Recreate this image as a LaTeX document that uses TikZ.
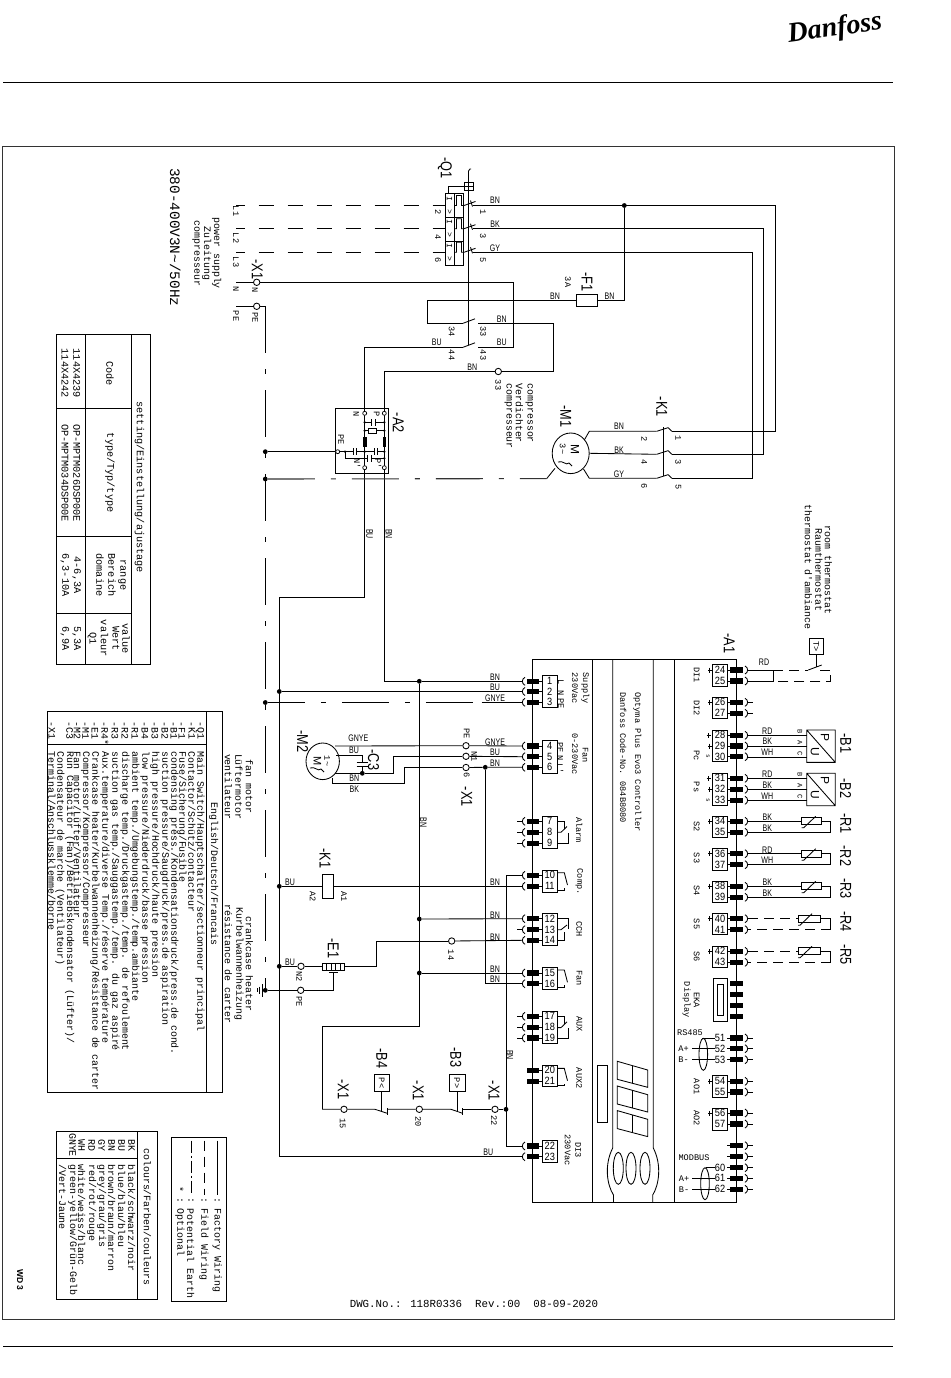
\documentclass[tikz,border=0pt]{standalone}
\usepackage{fontspec}
\usetikzlibrary{shapes.geometric}
\setmainfont{Liberation Sans}
\newfontfamily\mf{Liberation Mono}
\newfontfamily\srf{Liberation Serif}
\newcounter{lb}
\newcommand\Tx[4]{\stepcounter{lb}\node[#1] (t\thelb) at (#2,#3) {#4};}
\newcommand\Wl[3]{\Tx{wl}{#1}{#2}{\scalebox{.74}[1]{#3}}}
\newcommand\Rw[3]{\Tx{rwl}{#1}{#2}{\scalebox{.74}[1]{#3}}}
\newcommand\Nm[3]{\Tx{numl}{#1}{#2}{\scalebox{.88}[1]{#3}}}
% left terminal: bar, stub to box, number, cup; coordinate tlN = free end of cup
\newcommand\BarL[2]{\fill (527.3,#2-2.6) rectangle (539,#2+2.6);\draw[w] (539,#2) -- (542.3,#2);\coordinate (tl#1) at (522,#2);\Nm{549.8}{#2}{#1}}
\newcommand\TL[2]{\BarL{#1}{#2}\draw[w] (525,#2-4) .. controls (521.5,#2-2.5) and (521.5,#2+2.5) .. (525,#2+4);}
\newcommand\TLs[2]{\TL{#1}{#2}\draw[w] (522.3,#2) -- (517,#2);}
\newcommand\BarR[2]{\fill (730,#2-2.6) rectangle (742.7,#2+2.6);}
\newcommand\CupR[1]{\draw[w] (745,#1-4) .. controls (748.5,#1-2.5) and (748.5,#1+2.5) .. (745,#1+4);}
\newcommand\TR[2]{\BarR{#1}{#2}\draw[w] (727.7,#2) -- (730,#2);\CupR{#2}\coordinate (tr#1) at (748,#2);\Nm{720}{#2}{#1}}
\newcommand\TRs[2]{\TR{#1}{#2}\draw[w] (748,#2) -- (753,#2);}
\newcommand\Sns[7]{% resistor sensor: style, terminals n1 n2, y1, y2, rect x1, rect x2
 \coordinate (s#2) at (#6,#4);\coordinate (e#2) at (#7,#4);\coordinate (c#2) at (830.7,#4);\coordinate (c#3) at (830.7,#5);
 \draw[#1] (tr#2) -- (s#2);\draw[#1] (c#3) -- (tr#3);
 \draw[w] (#6,#4-3.4) rectangle (#7,#4+3.4);\draw[w] (e#2) -- (c#2) -- (c#3);
 \draw[w] (#6,#4+6.5) -- (#6+2,#4+6.5) -- (#6+14,#4-5);}
\tikzset{
 w/.style={line width=.85pt,black},
 fd/.style={w,dash pattern=on 15.5pt off 13.5pt},
 ds/.style={w,dash pattern=on 10pt off 6pt},
 pe/.style={w,dash pattern=on 47pt off 16pt on 5pt off 16pt},
 ct/.style={circle,draw,line width=.85pt,fill=white,minimum size=6.4pt,inner sep=0pt},
 cts/.style={circle,draw,line width=.7pt,fill=white,minimum size=4pt,inner sep=0pt},
 dot/.style={circle,fill=black,minimum size=4.8pt,inner sep=0pt},
 dots/.style={circle,fill=black,minimum size=2.6pt,inner sep=0pt},
 rm/.style={rotate=-90,inner sep=0pt,font=\mf\fontsize{9.9}{9.9}\selectfont},
 rml/.style={rm,anchor=west},
 rs/.style={rotate=-90,inner sep=0pt,font=\mf\fontsize{8.6}{8.6}\selectfont},
 rsl/.style={rs,anchor=west},
 rt/.style={rotate=-90,inner sep=0pt,font=\mf\fontsize{10.2}{10.2}\selectfont},
 big/.style={rotate=-90,xscale=.85,yscale=1.05,transform shape,inner sep=0pt,font=\fontsize{15}{15}\selectfont},
 wl/.style={inner sep=0pt,font=\fontsize{9.5}{9.5}\selectfont},
 rwl/.style={wl,rotate=-90},
 numl/.style={inner sep=0pt,font=\fontsize{10.5}{10.5}\selectfont},
 pl/.style={inner sep=0pt,font=\mf\fontsize{8.6}{8.6}\selectfont},
}
\begin{document}
\begin{tikzpicture}[x=1pt,y=-1pt,line cap=butt]
\useasboundingbox (0,0) rectangle (950,1378);
\fill[white] (0,0) rectangle (950,1378);
% page furniture
\node[inner sep=0pt,rotate=8,font=\srf\bfseries\itshape\fontsize{28}{28}\selectfont] (logo) at (835,29) {Danfoss};
\draw[line width=.7pt] (3,82.5) -- (893,82.5);
\draw[line width=.7pt] (3,1346) -- (893,1346);
\draw[line width=.9pt,black!80] (2.5,146) rectangle (894,1319);
\Tx{inner sep=0pt,rotate=-90,font=\bfseries\fontsize{8.5}{8.5}\selectfont}{20}{1280}{WD 3}
\Tx{inner sep=0pt,font=\mf\fontsize{10.8}{10.8}\selectfont}{474}{1303.5}{DWG.No.: 118R0336\ \ Rev.:00\ \ 08-09-2020}
% ---------- supply texts
\Tx{rotate=-90,inner sep=0pt,font=\mf\fontsize{14.4}{14.4}\selectfont}{175.3}{237.3}{380-400V3N\textasciitilde/50Hz}
\Tx{rm}{216.7}{253.3}{power supply}
\Tx{rm}{206.7}{253.3}{Zuleitung}
\Tx{rm}{196}{253.3}{compresseur}
\Tx{rs}{236}{211}{L1}\Tx{rs}{236}{238}{L2}\Tx{rs}{236}{262}{L3}\Tx{rs}{236}{289}{N}\Tx{rs}{236}{316}{PE}
\Tx{big}{257.3}{269.3}{-X1}
\Tx{rs}{255}{290.5}{N}\Tx{rs}{255.3}{317.7}{PE}
% ---------- Q1
\Tx{big}{445}{168}{-Q1}
\draw[w] (445,193) rectangle (463,265) (454,193) -- (454,265) (445,217) -- (463,217) (445,241) -- (463,241);
\draw[w] (448,193) -- (448,186) -- (464,186);
\draw[w] (464,182) rectangle (473,190) (468.5,182) -- (468.5,190) (464,186) -- (473,186);
\draw[w] (468.5,345) -- (468.5,171) -- (470,169) -- (471,169);
\foreach \i/\y in {1/205.5,2/228.7,3/252.3}{
 \coordinate (ql\i) at (445,\y);\coordinate (qr\i) at (473,\y);
 \draw[fd,dash phase=6.5pt] (236,\y) -- (ql\i);
 \draw[w] (454,\y) -- (456.5,\y) -- (456.5,\y-10) -- (461.5,\y-10) -- (461.5,\y) -- (464,\y) -- (475.5,\y-4);
 \draw[w] (470.5,\y-5) -- (472.5,\y+1);
 \node[inner sep=0pt,rotate=-90,font=\mf\fontsize{8}{8}\selectfont] at (449.5,\y-6.5) {I};
 \node[inner sep=0pt,rotate=-90,font=\mf\fontsize{8}{8}\selectfont] at (449.5,\y+6.5) {>};
}
\Tx{rs}{438}{212}{2}\Tx{rs}{438}{237}{4}\Tx{rs}{438}{260}{6}
\Tx{rs}{483}{212}{1}\Tx{rs}{483}{236}{3}\Tx{rs}{483}{260}{5}
\Wl{495}{200.5}{BN}\Wl{495}{224.5}{BK}\Wl{495}{248}{GY}
% phases to K1
\node[dot] (dQ) at (624.3,205.5) {};
\coordinate (k1t1) at (671.7,431.3);\coordinate (k1t3) at (671.7,454.3);\coordinate (k1t5) at (671.7,478.3);
\draw[w] (qr1) -- (775,205.5) -- (775,431.3) -- (k1t1);
\draw[w] (qr2) -- (763,228.7) -- (763,454.3) -- (k1t3);
\draw[w] (qr3) -- (752,252.3) -- (752,478.3) -- (k1t5);
% X1 N / PE
\node[ct] (xN) at (256.7,282.3) {};
\node[ct] (xPE) at (256.7,306.3) {};
\coordinate (nL) at (236,282.3);\coordinate (peL) at (236,306.3);
\coordinate (pet) at (265.3,306.3);
\draw[w] (nL) -- (xN);\draw[w] (peL) -- (xPE) -- (pet);
\coordinate (c43) at (478,347.3);\coordinate (c33) at (478,323.3);\coordinate (c34) at (463,323.3);\coordinate (c44) at (463,347.3);
\draw[w] (xN) -- (513,282.3) -- (513,347.3) -- (c43);
% F1
\draw[w] (576.5,294.5) rectangle (597.5,306.5);
\coordinate (f1l) at (576.5,300);\coordinate (f1r) at (597.5,300);
\draw[w] (f1r) -- (624.3,300) -- (dQ);
\draw[w] (f1l) -- (427,300) -- (427,323.3) -- (c34);
\Tx{big}{587}{282}{-F1}\Tx{rs}{568}{282}{3A}
\Wl{555}{296}{BN}\Wl{609.5}{296}{BN}
\draw[w] (c34) -- (475,318.8) (c44) -- (475,342.8);
\Tx{rs}{451.7}{331.7}{34}\Tx{rs}{483.3}{331.7}{33}\Tx{rs}{451.7}{355}{44}\Tx{rs}{483.3}{355}{43}
\Wl{501.7}{319.3}{BN}\Wl{501.7}{342.7}{BU}\Wl{436.7}{342.7}{BU}\Wl{472.3}{367.3}{BN}
% terminal 33
\node[ct] (x33) at (498.3,371.5) {};
\Tx{rs}{498.3}{385}{33}
\coordinate (a2P) at (384.3,371.5);
\draw[w] (x33) -- (a2P);
\draw[w] (c33) -- (553.3,323.3) -- (553.3,371.5) -- (x33);
\Tx{rml}{529.3}{383.3}{compressor}\Tx{rml}{519.3}{383.3}{Verdichter}\Tx{rml}{508.3}{383.3}{compresseur}
% ---------- A2
\draw[w] (335.3,408.3) rectangle (388.7,473.3);
\Tx{big}{398.3}{422.7}{-A2}
\draw[w] (c44) -- (364.7,347.3) -- (364.7,597.7) -- (279.3,597.7);
\draw[w] (a2P) -- (384.3,681.3);
\node[cts] (a2a) at (364.7,413.3) {};\node[cts] (a2b) at (384.3,413.3) {};
\node[cts] (a2c) at (364.7,467.7) {};\node[cts] (a2d) at (384.3,467.7) {};
\node[cts] (a2e) at (337.7,451.7) {};
\draw[w] (364.7,422.3) -- (371.7,422.3) (375,422.3) -- (384.3,422.3);
\draw[w] (371.7,419) -- (371.7,425.7) (375,419) -- (375,425.7);
\draw[w] (364.7,430.7) -- (384.3,430.7);\draw[w,fill=white] (368.3,428.3) rectangle (376.7,433.3);
\fill (363.3,436.7) rectangle (366.7,446.7);\fill (382.7,436.7) rectangle (386,446.7);
\draw[w] (a2e) -- (353.3,451.7) (356,451.7) -- (374,451.7) (377.3,451.7) -- (384.3,451.7);
\draw[w] (353.3,448.3) -- (353.3,455) (356,448.3) -- (356,455) (374,448.3) -- (374,455) (377.3,448.3) -- (377.3,455);
\draw[w] (345,451.7) -- (345,458.3) -- (367.7,458.3) (371,458.3) -- (384.3,458.3);
\draw[w] (367.7,455) -- (367.7,461.7) (371,455) -- (371,461.7);
\foreach \p/\q in {345/451.7,364.7/451.7,384.3/451.7,384.3/458.3,364.7/430.7,384.3/430.7,364.7/422.3,384.3/422.3}{\node[dots] at (\p,\q) {};}
\Tx{rs}{356.3}{414}{N}\Tx{rs}{376.7}{414}{P}\Tx{rs}{341}{439.3}{PE}\Tx{rs}{357.3}{463.3}{N'}\Tx{rs}{378.3}{463.3}{P'}
\Rw{369.5}{534}{BU}\Rw{389}{534}{BN}
% ---------- PE lines
\node[dot] (dA) at (265.3,451.7) {};
\node[dot] (dB) at (265.3,479) {};
\node[dot] (dC) at (265.3,702.5) {};
\node[dot] (dE) at (265.3,990.3) {};
\draw[pe] (pet) -- (dE);
\draw[w] (dA) -- (a2e);
\coordinate (m1g) at (546.7,478.6);
\draw[pe,line width=1.1pt,black!80] (dB) -- (m1g);
\draw[w] (m1g) -- (555,468.3);
\draw[pe,dash phase=10pt] (dC) -- (481.7,702.5);
% ---------- M1, K1
\node[draw,ellipse,line width=.85pt,minimum width=37pt,minimum height=40.6pt,inner sep=0pt] (m1) at (570.7,453.3) {};
\Tx{big}{565.7}{416.7}{-M1}
\Tx{rotate=-90,inner sep=0pt,font=\fontsize{12}{12}\selectfont}{575}{449}{M}
\Tx{rs}{562.7}{449}{3\textasciitilde}
\draw[w] (558,462) .. controls (563,460) and (566,466) .. (569,463) -- (572,466);
\coordinate (k1a) at (656.7,431.3);\coordinate (k1b) at (656.7,454.3);\coordinate (k1c) at (656.7,478.3);
\draw[w] (584.3,440) -- (589.3,431.3) -- (k1a);
\draw[w] (m1.east) -- (k1b);
\draw[w] (583.5,469) -- (589.3,478.3) -- (k1c);
\foreach \y in {431.3,454.3,478.3}{\draw[w] (656.7,\y) -- (668.3,\y-3.7) (668.3,\y-3.5) -- (671.7,\y);}
\draw[w] (663.3,427) -- (663.3,476);
\Wl{619}{426.7}{BN}\Wl{619}{450}{BK}\Wl{619}{474}{GY}
\Tx{rs}{644.3}{438.7}{2}\Tx{rs}{644.3}{462}{4}\Tx{rs}{644.3}{485.7}{6}
\Tx{rs}{678.3}{437.7}{1}\Tx{rs}{678.3}{462.3}{3}\Tx{rs}{678.3}{486.7}{5}
\Tx{big}{661.7}{406.7}{-K1}
% ---------- settings table
\draw[w] (56,334) rectangle (150.7,664.3);
\draw[w] (85.3,334) -- (85.3,664.3) (131.3,334) -- (131.3,664.3);
\draw[w] (56,408.3) -- (131.3,408.3) (56,536.7) -- (131.3,536.7) (56,613.3) -- (131.3,613.3);
\Tx{rt}{139.5}{487.3}{setting/Einstellung/ajustage}
\Tx{rt}{110}{373.3}{Code}\Tx{rt}{110}{472.7}{type/Typ/type}
\Tx{rt}{122}{575}{range}\Tx{rt}{112}{575}{Bereich}\Tx{rt}{100}{575}{domaine}
\Tx{rt}{126}{638.3}{value}\Tx{rt}{116}{638.3}{Wert}\Tx{rt}{104.5}{638.3}{valeur}\Tx{rt}{92}{638.3}{Q1}
\Tx{rt}{76.7}{373.3}{114X4239}\Tx{rt}{65}{373.3}{114X4242}
\Tx{rt}{76.7}{473}{OP-MPTM026DSP00E}\Tx{rt}{65}{473}{OP-MPTM034DSP00E}
\Tx{rt}{76.7}{575}{4-6,3A}\Tx{rt}{65}{575}{6,3-10A}
\Tx{rt}{76.7}{638.3}{5,3A}\Tx{rt}{65}{638.3}{6,9A}
% ---------- A1 controller
\draw[w] (532.3,659.3) rectangle (736.3,1202.7);
\draw[w] (592.7,659.3) -- (592.7,1202.7) (674.3,659.3) -- (674.3,1202.7);
\draw[w] (612.7,659.3) -- (612.7,1148) .. controls (604,1165) and (607,1185) .. (613.5,1195) -- (613.5,1202.7);
\draw[w] (653.3,659.3) -- (653.3,1148) .. controls (662,1165) and (659,1185) .. (652.7,1195) -- (652.7,1202.7);
\foreach \x in {618.3,631,645}{\draw[w] (\x,1168.3) ellipse [x radius=5,y radius=16];}
\draw[w] (597.3,1065.3) rectangle (607.3,1122.3);
\foreach \y in {0,24.7,49.3}{
 \draw[w] (617.3,1061.3+\y) -- (647.7,1070+\y) -- (647.7,1087.3+\y) -- (617.3,1079.3+\y) -- cycle;
 \draw[w] (632.7,1065.7+\y) -- (632.7,1083.3+\y);}
\Tx{rsl}{637.3}{692}{Optyma Plus Evo3 Controller}
\Tx{rsl}{623.3}{692}{Danfoss Code-No. 084B8080}
\Tx{big}{729.3}{643.3}{-A1}
% left terminals
\draw[w] (542.3,675) rectangle (557.3,707.7);\foreach \n/\y in {1/681.3,2/691.5,3/702.3}{\TL{\n}{\y}}
\draw[w] (542.3,740.7) rectangle (557.3,773.3);\foreach \n/\y in {4/746,5/756.7,6/767.3}{\TL{\n}{\y}}
\draw[w] (542.3,816) rectangle (557.3,848.7);\foreach \n/\y in {7/821.3,8/832.3,9/843.3}{\TLs{\n}{\y}}
\draw[w] (542.3,870) rectangle (557.3,892);\foreach \n/\y in {10/875.3,11/886.3}{\TL{\n}{\y}}
\draw[w] (542.3,913.3) rectangle (557.3,945.7);\TL{12}{918.7}\TLs{13}{929.7}\TL{14}{940.3}
\draw[w] (542.3,967.3) rectangle (557.3,989.3);\foreach \n/\y in {15/973,16/983.7}{\TL{\n}{\y}}
\draw[w] (542.3,1011.3) rectangle (557.3,1043.7);\foreach \n/\y in {17/1016.3,18/1027.3,19/1038}{\TLs{\n}{\y}}
\draw[w] (542.3,1065.7) rectangle (557.3,1086.7);\foreach \n/\y in {20/1070.3,21/1081.3}{\BarL{\n}{\y}}
\draw[w] (542.3,1140.7) rectangle (557.3,1162.7);\foreach \n/\y in {22/1146,23/1156.7}{\TL{\n}{\y}}
% relay contacts
\foreach \y in {816,1011.3}{
 \draw[w] (557.3,\y+5.3) -- (564.3,\y+5.3) -- (564.3,\y+13);
 \draw[w] (557.3,\y+27.3) -- (568.7,\y+27.3) -- (568.7,\y+17);
 \draw[w] (557.3,\y+16.3) -- (561,\y+16.3) -- (567,\y+10.5);}
\draw[w] (557.3,918.7) -- (568.7,918.7) -- (568.7,929);
\draw[w] (557.3,940.3) -- (564.3,940.3) -- (564.3,932);
\draw[w] (557.3,929.7) -- (561,929.7) -- (567,925);
\foreach \y in {870,967.3,1065.7}{
 \draw[w] (557.3,\y+2.7) -- (564.3,\y+2.7) -- (567.5,\y+15);
 \draw[w] (557.3,\y+20) -- (564.3,\y+20) -- (564.3,\y+18);}
% left labels
\Tx{rs}{561}{682}{L}\Tx{rs}{561}{693}{N}\Tx{rs}{561}{703.7}{PE}
\Tx{rs}{560.3}{747.3}{PE}\Tx{rs}{560.3}{758.3}{N}\Tx{rs}{560.3}{768.3}{L'}
\Tx{rs}{585.3}{688.3}{Supply}\Tx{rs}{575}{688.3}{230Vac}
\Tx{rs}{585.3}{755}{Fan}\Tx{rs}{575}{754}{0-230Vac}
\Tx{rs}{579.3}{830}{Alarm}\Tx{rs}{579.3}{881.7}{Comp.}\Tx{rs}{579.3}{929.3}{CCH}
\Tx{rs}{579.3}{978.3}{Fan}\Tx{rs}{579.3}{1024.3}{AUX}\Tx{rs}{579.3}{1078.3}{AUX2}
\Tx{rs}{578.3}{1150}{DI3}\Tx{rs}{567.7}{1150}{230Vac}
% right terminals
\foreach \a/\b in {664.7/686,697.7/718.7,730/761.7,773.3/805.3,816/837.3,848.3/870,881/902.7,913.3/934.7,946/967.3,1075.7/1097.3,1108.3/1130}{\draw[w] (712.3,\a) rectangle (727.7,\b);}
\foreach \n/\y in {24/670,25/681,28/735.3,29/746,30/756.7,31/778.3,32/789.3,33/800.3,34/821.3,35/832.3,36/853.7,37/864.7,38/886.3,39/897.3,40/918.7,41/929.7,42/951.3,43/962.3}{\TR{\n}{\y}}
\foreach \n/\y in {26/702.3,27/713.3,54/1081.3,55/1092,56/1113,57/1124}{\TRs{\n}{\y}}
\foreach \y in {670,702.3,746,789.3,821.3,853.7,886.3,918.7,951.3,1081.3,1113}{\draw[line width=.5pt] (708,\y) -- (712.3,\y) (709.5,\y-2.5) -- (709.5,\y+2.5);}
\draw[line width=.5pt] (706.5,735.3) -- (711,735.3) (708.7,733) -- (708.7,737.6);
\draw[line width=.5pt] (706.5,778.3) -- (711,778.3) (708.7,776) -- (708.7,780.6);
\Tx{inner sep=0pt,rotate=-90,font=\mf\fontsize{6}{6}\selectfont}{708}{756.7}{s}
\Tx{inner sep=0pt,rotate=-90,font=\mf\fontsize{6}{6}\selectfont}{708}{800.3}{s}
% EKA display
\foreach \y in {983.7,994.3,1005.3,1016.3}{\BarR{e}{\y}}
\draw[w] (713,978.7) rectangle (727.7,1021.3);\draw[w] (717.7,984.7) rectangle (723.7,1015.7);
% RS485, unnamed, MODBUS
\foreach \n/\y in {51/1038,52/1048.7,53/1059.7}{\BarR{\n}{\y}\CupR{\y}\draw[w] (748,\y) -- (753,\y) (727,\y) -- (730,\y);\Nm{720}{\y}{\n}\coordinate (bb\n) at (714.5,\y);}
\foreach \y in {1145.7,1156.7}{\BarR{x}{\y}\CupR{\y}\draw[w] (748,\y) -- (753,\y) (727,\y) -- (730,\y);}
\foreach \n/\y in {60/1167.7,61/1178.3,62/1189.3}{\BarR{\n}{\y}\CupR{\y}\draw[w] (748,\y) -- (753,\y) (727,\y) -- (730,\y);\Nm{720}{\y}{\n}\coordinate (bb\n) at (714.5,\y);}
\draw[w] (703.3,1054.3) ellipse [x radius=4.3,y radius=16];
\draw[w] (705,1183.7) ellipse [x radius=4.3,y radius=16];
\draw[w] (bb51) -- (702,1038);\draw[w] (bb52) -- (692,1048.7);\draw[w] (bb53) -- (692,1059.7);
\draw[w] (bb60) -- (706,1167.7);\draw[w] (bb61) -- (692,1178.3);\draw[w] (bb62) -- (692,1189.3);
\Tx{pl}{690}{1032.7}{RS485}\Tx{pl}{683.5}{1048.7}{A+}\Tx{pl}{683.5}{1059.7}{B-}
\Tx{pl}{694}{1158}{MODBUS}\Tx{pl}{684}{1178.7}{A+}\Tx{pl}{684}{1189.3}{B-}
% right labels
\Tx{rs}{696.7}{675}{DI1}\Tx{rs}{696.7}{708}{DI2}\Tx{rs}{696.7}{755.7}{Pc}\Tx{rs}{696.7}{787}{Ps}
\Tx{rs}{696.7}{826.7}{S2}\Tx{rs}{696.7}{858}{S3}\Tx{rs}{696.7}{890.7}{S4}\Tx{rs}{696.7}{924}{S5}\Tx{rs}{696.7}{956.7}{S6}
\Tx{rs}{696.7}{1000}{EKA}\Tx{rs}{686.7}{1000}{Display}
\Tx{rs}{696.7}{1086.7}{AO1}\Tx{rs}{696.7}{1118}{AO2}
% room thermostat
\Tx{rm}{828.3}{570}{room thermostat}\Tx{rm}{819}{570}{Raumthermostat}\Tx{rm}{808.3}{567}{thermostat d'ambiance}
\draw[w] (809.3,638.3) rectangle (823.3,654.3);
\Tx{rs}{816.3}{646.3}{T>}
\coordinate (thA) at (773.3,670);\coordinate (thB) at (773.3,681);\coordinate (thC) at (808.3,670);
\draw[w] (tr24) -- (thA) -- (thB) -- (tr25);
\draw[ds] (thA) -- (thC);
\draw[w] (thC) -- (821.7,665);\draw[w] (816.7,654.3) -- (816.7,667);
\draw[ds] (820,670) -- (830.7,670) -- (830.7,681) -- (thB);
\Wl{764}{662.7}{RD}
% B1 B2
\foreach \y/\p in {730/1,773.3/2}{
 \draw[w] (806.7,\y) rectangle (835.3,\y+32.4) (806.7,\y) -- (835.3,\y+32.4);
 \Tx{rotate=-90,inner sep=0pt,font=\fontsize{12}{12}\selectfont}{825}{\y+7.5}{P}
 \Tx{rotate=-90,inner sep=0pt,font=\fontsize{12}{12}\selectfont}{815}{\y+21.7}{U}
 \foreach \d/\l in {5.3/B,16/A,27/C}{\draw[w] (748,\y+\d) -- (806.7,\y+\d);\Tx{inner sep=0pt,rotate=-90,font=\mf\fontsize{7}{7}\selectfont}{800}{\y+\d-3.6}{\l}}
 \Wl{767.3}{\y+1}{RD}\Wl{767.3}{\y+11.7}{BK}\Wl{767.3}{\y+22.5}{WH}
}
% sensors
\Sns{w}{34}{35}{821.3}{832.3}{801.7}{821}
\Sns{w}{36}{37}{853.7}{864.7}{801.7}{821}
\Sns{w}{38}{39}{886.3}{897.3}{801.7}{821}
\Sns{ds}{40}{41}{918.7}{929.7}{798}{820.7}
\Sns{ds}{42}{43}{951.3}{962.3}{798}{820.7}
\Wl{767.3}{817.7}{BK}\Wl{767.3}{828.3}{BK}\Wl{767.3}{850}{RD}\Wl{767.3}{860.7}{WH}\Wl{767.3}{882.3}{BK}\Wl{767.3}{893.3}{BK}
\Tx{big}{845.7}{743.3}{-B1}\Tx{big}{845.7}{788.3}{-B2}\Tx{big}{845.7}{823.3}{-R1}\Tx{big}{845.7}{856}{-R2}\Tx{big}{845.7}{888.3}{-R3}\Tx{big}{845.7}{921.7}{-R4}\Tx{big}{845.7}{954.3}{-R5}
% ---------- controller input wires
\node[dot] (d419) at (419.3,681.3) {};
\node[dot] (d279) at (279.3,691.5) {};
\node[dot] (d419b) at (419.3,919) {};
\node[dot] (d419c) at (419.3,973) {};
\node[dot] (d485) at (485.3,767.3) {};
\node[dot] (d506) at (506,1109.3) {};
\node[dot] (dK) at (279.3,886.3) {};
\node[dot] (dN2) at (279.3,966.3) {};
\draw[w] (384.3,681.3) -- (d419) -- (tl1);
\draw[w] (d279) -- (tl2);
\draw[w] (481.7,702.3) -- (tl3);
\draw[w] (279.3,597.7) -- (279.3,1156.7) -- (tl23);
\draw[w] (d419) -- (419.3,1026.7) -- (322,1026.7) -- (322,1109.3);
\draw[w] (d419b) -- (tl12);
\draw[w] (d419c) -- (tl15);
\draw[w] (d485) -- (485.3,983.7) -- (tl16);
\draw[w] (506,875.3) -- (506,1146) -- (tl22);
\draw[w] (506,875.3) -- (tl10);
\Rw{423.5}{822.7}{BN}\Rw{510}{1055}{BN}\Wl{488.3}{1152.7}{BU}
\Wl{495}{677}{BN}\Wl{495}{687.5}{BU}\Wl{495}{698}{GNYE}
\Wl{495}{742.3}{GNYE}\Wl{495}{752}{BU}\Wl{495}{763}{BN}
\Wl{495}{882}{BN}\Wl{495}{915}{BN}\Wl{495}{937}{BN}\Wl{495}{969}{BN}\Wl{495}{979.3}{BN}
% X1 fan
\node[ct] (xf4) at (466,745.7) {};\node[ct] (xf5) at (466,756.3) {};\node[ct] (xf6) at (466,767.5) {};
\draw[w] (xf4) -- (tl4);\draw[w] (xf5) -- (tl5);\draw[w] (xf6) -- (d485) -- (tl6);
\Tx{rs}{466.7}{733.3}{PE}\Tx{rs}{474.3}{756.7}{N1}\Tx{rs}{466.7}{775}{6}\Tx{big}{466.7}{796.7}{-X1}
% M2
\node[draw,ellipse,line width=.85pt,minimum width=33.4pt,minimum height=36.6pt,inner sep=0pt] (m2) at (322.7,761.3) {};
\Tx{big}{302.7}{741.7}{-M2}
\Tx{rotate=-90,inner sep=0pt,font=\fontsize{11}{11}\selectfont}{317.5}{761}{M}
\Tx{rs}{327.3}{761}{1\textasciitilde}
\draw[w] (310,768) .. controls (315,766) and (318,772) .. (321,769) -- (324,772);
\coordinate (c3t) at (362.3,755.7);\node[dot] (c3b) at (362.3,773.3) {};
\draw[w] (335,746) -- (xf4);
\draw[w] (336,755.7) -- (c3t) -- (362.3,762);
\draw[w] (356.7,762.3) -- (367.7,762.3) (356.7,766.7) -- (367.7,766.7);
\draw[w] (362.3,766.7) -- (c3b);
\draw[w] (335,773.3) -- (c3b) -- (393.3,773.3) -- (393.3,756.3) -- (xf5);
\draw[w] (332,778) -- (332,783.3) -- (404.3,783.3) -- (404.3,767.5) -- (xf6);
\Tx{big}{373.5}{760}{-C3}
\Wl{358.3}{738.5}{GNYE}\Wl{354}{750.7}{BU}\Wl{354.3}{778.7}{BN}\Wl{354.3}{789.3}{BK}
% K1 coil
\draw[w] (322.3,874.3) rectangle (333.7,898.7);
\coordinate (k1L) at (322.3,886.3);\coordinate (k1R) at (333.7,886.3);
\draw[w] (dK) -- (k1L);\draw[w] (k1R) -- (tl11);
\Tx{big}{325}{858.3}{-K1}\Wl{290}{882.3}{BU}
\Tx{rs}{312.7}{896.7}{A2}\Tx{rs}{344}{896.7}{A1}
% E1
\draw[w] (322.3,963.3) rectangle (344.7,970);
\foreach \x in {326.8,331.3,335.8,340.3}{\draw[w] (\x,963.3) -- (\x,970);}
\node[ct] (xN2) at (301,966.3) {};\node[ct] (xPE2) at (300.7,990.3) {};\node[ct] (x14) at (451.7,941) {};
\coordinate (e1L) at (322.3,966.3);\coordinate (e1R) at (344.7,966.3);
\draw[w] (dN2) -- (xN2) -- (e1L);
\draw[w] (e1R) -- (376.7,966.3) -- (376.7,941) -- (x14);
\draw[w] (x14) -- (tl14);
\draw[w] (dE) -- (xPE2) -- (333.7,990.3) -- (333.7,972.7);
\draw[w] (329.3,972.7) -- (338,972.7);
\draw[w] (dE) -- (262,990.3);
\draw[w] (262,984) -- (262,996.7) (259.3,986.7) -- (259.3,994) (257.3,988.3) -- (257.3,992.3);
\Tx{big}{333.3}{948.3}{-E1}\Wl{290}{962.3}{BU}
\Tx{rs}{299.3}{976.7}{N2}\Tx{rs}{299.3}{1001.7}{PE}\Tx{rs}{451}{955}{14}
% fan/crankcase texts
\Tx{rm}{249.3}{786.7}{fan motor}\Tx{rm}{239}{786.7}{Lüftermotor}\Tx{rm}{228.3}{786.7}{ventilateur}
\Tx{rm}{249.3}{964}{crankcase heater}\Tx{rm}{239}{964}{Kurbelwannenheizung}\Tx{rm}{228.3}{964}{résistance de carter}
% ---------- pressure switches
\node[ct] (x15) at (344,1109.3) {};\node[ct] (x20) at (419.3,1109.3) {};\node[ct] (x22) at (495,1109.3) {};
\coordinate (b4a) at (375,1109.3);\coordinate (b4b) at (387.3,1109.3);\coordinate (b3a) at (451,1109.3);\coordinate (b3b) at (462.7,1109.3);
\draw[w] (322,1109.3) -- (x15) -- (b4a) -- (387.3,1113.3);
\draw[w] (387.3,1108.3) -- (387.3,1115);
\draw[w] (b4b) -- (x20) -- (b3a) -- (462.7,1113.3);
\draw[w] (462.7,1108.3) -- (462.7,1115);
\draw[w] (b3b) -- (x22) -- (d506);
\draw[w] (374.3,1074.3) rectangle (389.3,1091.7);\draw[w] (449.3,1074.3) rectangle (465,1091.7);
\draw[w] (381.7,1091.7) -- (381.7,1111);\draw[w] (457.3,1091.7) -- (457.3,1111);
\Tx{rs}{381.7}{1083}{P<}\Tx{rs}{457}{1083}{P>}
\Tx{big}{381.7}{1058.3}{-B4}\Tx{big}{455.7}{1057.3}{-B3}
\Tx{big}{343.3}{1089.3}{-X1}\Tx{big}{418.3}{1090.7}{-X1}\Tx{big}{494}{1090.7}{-X1}
\Tx{rs}{342.7}{1123.3}{15}\Tx{rs}{418.3}{1121.7}{20}\Tx{rs}{494}{1120.7}{22}
% ---------- component legend
\draw[w] (47.3,711.7) rectangle (222.3,1092.3);
\draw[w] (206,711.7) -- (206,1092.3) (47.3,744.3) -- (206,744.3);
\Tx{rm}{213.7}{874}{English/Deutsch/Francais}
\foreach \x/\l in {200/-Q1,192/-K1,182/-F1,174/-B1,165/-B2,155/-B3,145/-B4,135/-R1,125/-R2,115/-R3,105/-R4*,95/-E1,85.7/-M1,77.3/-M2,69.7/-C3,52/-X1}{\Tx{rml}{\x}{721.5}{\l}}
\Tx{rml}{200}{751.7}{Main Switch/Hauptschalter/sectionneur principal}
\Tx{rml}{192}{751.7}{Contactor/Schütz/contacteur}
\Tx{rml}{182}{751.7}{Fuse/Sicherung/Fusible}
\Tx{rml}{174}{751.7}{condensing press./Kondensationsdruck/press.de cond.}
\Tx{rml}{165}{751.7}{suction pressure/Saugdruck/press.de aspiration}
\Tx{rml}{155}{751.7}{high pressure/Hochdruck/haute pression}
\Tx{rml}{145}{751.7}{low pressure/Niederdruck/basse pression}
\Tx{rml}{135}{751.7}{ambient temp./Umgebungstemp./temp.ambiante}
\Tx{rml}{125}{751.7}{discharge temp./Druckgastemp./temp. de refoulement}
\Tx{rml}{115}{751.7}{suction gas temp./Sauggastemp./temp. du gaz aspiré}
\Tx{rml}{105}{751.7}{Aux.temperature/diverse Temp./réserve température}
\Tx{rml}{95}{751.7}{Crankcase heater/Kurbelwannenheizung/Résistance de carter}
\Tx{rml}{85.7}{751.7}{Compressor/Kompressor/Compresseur}
\Tx{rml}{77.3}{751.7}{Fan motor/Lüfter/Ventilateur}
\Tx{rml}{69.7}{751.7}{Run Capacitor (Fan)/Betriebskondensator (Lüfter)/}
\Tx{rml}{60}{751.7}{Condensateur de marche (Ventilateur)}
\Tx{rml}{52}{751.7}{Terminal/Anschlussklemme/borne}
% ---------- wiring legend
\draw[w] (171.7,1137.3) rectangle (226,1301);
\draw[w] (217.3,1140.7) -- (217.3,1195);
\draw[ds] (204,1140.7) -- (204,1195);
\draw[w,dash pattern=on 12pt off 3pt on 2pt off 3pt] (191,1140.7) -- (191,1195);
\Tx{rm}{217.3}{1200}{:}\Tx{rm}{204}{1200}{:}\Tx{rm}{191}{1200}{:}\Tx{rm}{180}{1200}{:}\Tx{rm}{180}{1189}{*}
\Tx{rml}{217.3}{1208.7}{Factory Wiring}\Tx{rml}{204}{1208.7}{Field Wiring}\Tx{rml}{190.7}{1208.7}{Potential Earth}\Tx{rml}{180}{1208.7}{Optional}
% ---------- colour legend
\draw[w] (56.7,1131.7) rectangle (157.3,1299.3);
\draw[w] (137.7,1131.7) -- (137.7,1299.3) (56.7,1158.3) -- (137.7,1158.3);
\Tx{rm}{147.3}{1216.7}{colours/Farben/couleurs}
\Tx{rm}{131.7}{1145}{BK}\Tx{rm}{121.7}{1145}{BU}\Tx{rm}{111.7}{1145}{BN}\Tx{rm}{101.7}{1145}{GY}\Tx{rm}{91.7}{1145}{RD}\Tx{rm}{81.7}{1145}{WH}\Tx{rm}{72.7}{1145}{GNYE}
\Tx{rml}{131.7}{1164.3}{black/schwarz/noir}
\Tx{rml}{121.7}{1164.3}{blue/blau/bleu}
\Tx{rml}{111.7}{1164.3}{brown/braun/marron}
\Tx{rml}{101.7}{1164.3}{grey/grau/gris}
\Tx{rml}{91.7}{1164.3}{red/rot/rouge}
\Tx{rml}{81.7}{1164.3}{white/weiss/blanc}
\Tx{rml}{72.7}{1164.3}{green-yellow/Grün-Gelb}
\Tx{rml}{62.7}{1164.3}{/Vert-Jaune}
\end{tikzpicture}
\end{document}
